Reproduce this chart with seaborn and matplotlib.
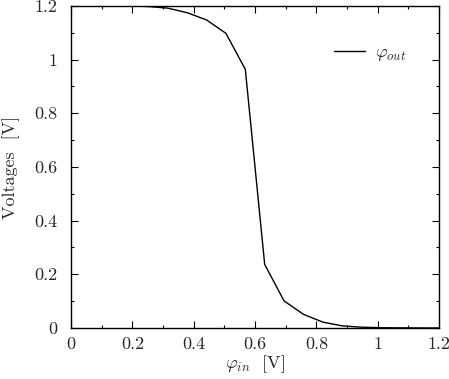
import matplotlib
matplotlib.use("Agg")
import matplotlib.pyplot as plt
from matplotlib.ticker import MultipleLocator, FuncFormatter
import numpy as np
import pandas as pd
import seaborn as sns

# Inverter transfer curve (20 samples 0..1.2 V)
phi_in = [0.0, 0.0632, 0.1263, 0.1895, 0.2526, 0.3158, 0.3789, 0.4421,
          0.5053, 0.5684, 0.6316, 0.6947, 0.7579, 0.8211, 0.8842, 0.9474,
          1.0105, 1.0737, 1.1368, 1.2]
phi_out = [1.2, 1.2, 1.2, 1.2, 1.198, 1.192, 1.175, 1.148,
           1.098, 0.964, 0.237, 0.101, 0.051, 0.022, 0.008, 0.003,
           0.001, 0.0005, 0.0002, 0.0]

sns.set_style("ticks")
plt.rcParams['font.family'] = 'serif'
plt.rcParams['font.serif'] = ['cmr10', 'DejaVu Serif']
plt.rcParams['mathtext.fontset'] = 'cm'
plt.rcParams['axes.unicode_minus'] = False

df = pd.DataFrame({'phi_in': phi_in, 'phi_out': phi_out})

fig = plt.figure(figsize=(4.49, 3.79), dpi=100)
ax = fig.add_axes([71 / 449, 1 - 328 / 379, 368 / 449, 322 / 379])

sns.lineplot(data=df, x='phi_in', y='phi_out', color='black', lw=1.0,
             label=r'$\varphi_{out}$', ax=ax)

ax.set_xlim(0, 1.2)
ax.set_ylim(0, 1.2)
ax.xaxis.set_major_locator(MultipleLocator(0.2))
ax.xaxis.set_minor_locator(MultipleLocator(0.1))
ax.yaxis.set_major_locator(MultipleLocator(0.2))
ax.yaxis.set_minor_locator(MultipleLocator(0.1))
fmt = FuncFormatter(lambda v, p: ('%g' % round(v, 2)))
ax.xaxis.set_major_formatter(fmt)
ax.yaxis.set_major_formatter(fmt)
ax.tick_params(which='both', direction='in', top=True, right=True,
               labelsize=13, width=0.8, color='black')
ax.tick_params(which='major', length=5)
ax.tick_params(which='minor', length=2.5)
ax.tick_params(axis='x', which='major', pad=6)
ax.tick_params(axis='y', which='major', pad=10)
for s in ax.spines.values():
    s.set_visible(True)
    s.set_linewidth(1.0)
    s.set_color('black')

ax.set_xlabel(r'$\varphi_{in}$  [V]', fontsize=13, labelpad=1)
ax.set_ylabel('Voltages  [V]', fontsize=13, labelpad=10)

ax.legend(loc='upper right', bbox_to_anchor=(0.955, 0.93), frameon=False,
          fontsize=13, handlelength=1.7, handletextpad=0.55)

fig.savefig('out.png', dpi=100)
